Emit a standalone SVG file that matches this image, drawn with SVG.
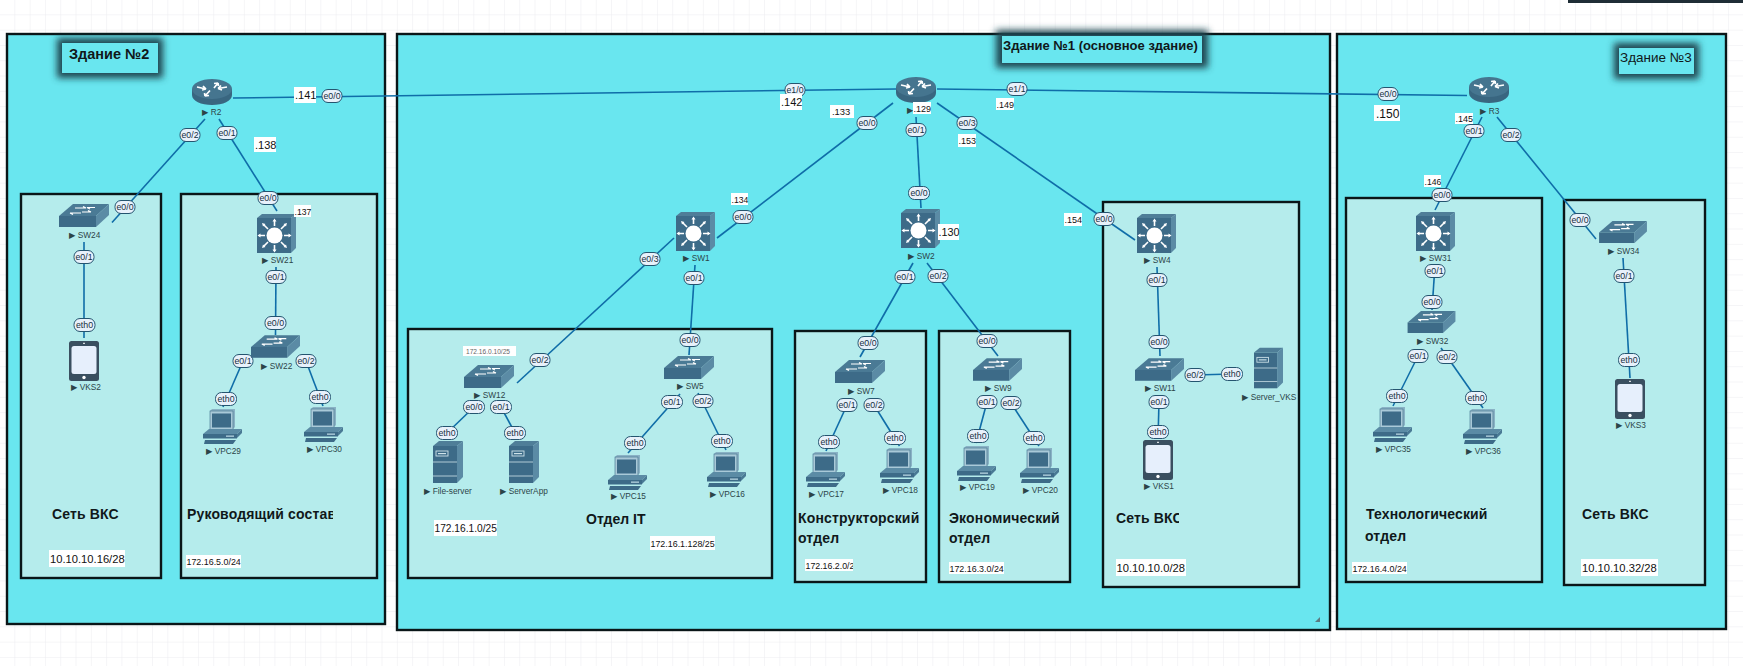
<svg xmlns="http://www.w3.org/2000/svg" width="1743" height="666" viewBox="0 0 1743 666">
<style>
text{font-family:"Liberation Sans","DejaVu Sans",sans-serif}
.bld{fill:#69e6ef;stroke:#0a1618;stroke-width:2.4}
.zone{fill:#b5ecec;stroke:#0a1618;stroke-width:2.4}
.ln{stroke:#0f6da8;stroke-width:1.6;fill:none;stroke-linecap:butt}
.pill{fill:#e8f1fb;stroke:#24546f;stroke-width:1}
.pt{font-size:8.8px;fill:#16303e;text-anchor:middle}
.nl{font-size:8.3px;fill:#2c4448}
.h{font-size:14px;font-weight:bold;fill:#10181a;letter-spacing:.15px}
.w{fill:#fff}
.ip{fill:#111}
.tag{fill:#69e6ef}
.shd{fill:#1d4450;filter:url(#sh)}
</style>
<defs>
<pattern id="grid" width="15.3" height="15.3" patternUnits="userSpaceOnUse"><path d="M15.3 0V15.3H0" fill="none" stroke="#ececf0" stroke-width="1"/></pattern>
<filter id="sh" x="-30%" y="-60%" width="160%" height="220%"><feGaussianBlur stdDeviation="3.500"/></filter>
<clipPath id="c1"><rect x="180" y="500" width="153" height="30"/></clipPath>
<clipPath id="c2"><rect x="1110" y="505" width="69" height="30"/></clipPath>
<clipPath id="c3"><rect x="805" y="559" width="48" height="12"/></clipPath>
<symbol id="router" viewBox="0 0 40 26" overflow="visible">
<path d="M0 10V16C0 22 9 26 20 26S40 22 40 16V10Z" fill="#396680"/>
<ellipse cx="20" cy="10" rx="20" ry="10" fill="#45758f"/>
<path d="M5 8L14 10M14 10l-3-3M14 10l-4 1M35 8L26 9.500M26 9.500l3-3M26 9.500l4 1.500M22 9L26 4M26 4l-4 .5M26 4l.5 3M18 11.500L13 17M13 17l4-.5M13 17l-.5-3" stroke="#fff" stroke-width="1.700" fill="none"/>
</symbol>
<symbol id="l3" viewBox="0 0 39 39" overflow="visible">
<path d="M0 4L5 0H39L34 4Z" fill="#4f7e98"/><path d="M34 4L39 0V34L34 39Z" fill="#5b8ba5"/>
<rect x="0" y="4" width="34" height="35" fill="#3d6b88"/>
<circle cx="17.500" cy="21.500" r="8" fill="#fff"/>
<path d="M17.500 12V6M17.500 31V37M8 21.500H2M27 21.500H33M11 15L6.500 10.500M24 15L28.500 10.500M11 28L6.500 32.500M24 28L28.500 32.500" stroke="#fff" stroke-width="1.600"/>
<path d="M17.500 4.500l-2 3h4ZM17.500 38.500l-2-3h4ZM.5 21.500l3-2v4ZM34.500 21.500l-3-2v4ZM5 9l1 3.500 2.500-2.500ZM30 9l-1 3.500-2.500-2.500ZM5 34l1-3.500 2.500 2.500ZM30 34l-1-3.500-2.500 2.500Z" fill="#fff"/>
</symbol>
<symbol id="l2" viewBox="0 0 50 23" overflow="visible">
<path d="M0 12L14 0H50L37 12Z" fill="#4a7a95"/><path d="M37 12L50 0V11L37 23Z" fill="#5b8ba5"/>
<rect x="0" y="12" width="37" height="11" fill="#3d6b88"/>
<path d="M16 4H27M27 4l-3-1.500M36 3.500H28M28 3.500l3 1.500M11 9H22M11 9l3 1.500M23 8H32M32 8l-3-1.500" stroke="#fff" stroke-width="1.200" fill="none"/>
</symbol>
<symbol id="pc" viewBox="0 0 39 35" overflow="visible">
<path d="M7 2L9 0H32V18L29 21H7Z" fill="#8ab2c5"/><rect x="7" y="2" width="23" height="19" fill="#a9c9d8" stroke="#3d6b88" stroke-width=".6"/>
<rect x="9" y="4.500" width="19" height="14" fill="#3d6b88"/>
<path d="M0 25L6 20H39L34 25Z" fill="#5b8ba5"/><path d="M34 25L39 20V24L34 29Z" fill="#4a7a95"/>
<rect x="0" y="25" width="34" height="4.500" fill="#3d6b88"/><rect x="23" y="26.500" width="8" height="1.300" fill="#b5d3df"/>
<path d="M2 31H33L30 35H1Z" fill="#3d6b88"/>
</symbol>
<symbol id="srv" viewBox="0 0 30 42" overflow="visible">
<path d="M0 5L6 0H30L24 5Z" fill="#4f7e98"/><path d="M24 5L30 0V36L24 42Z" fill="#5b8ba5"/>
<rect x="0" y="5" width="24" height="37" fill="#3d6b88"/>
<rect x="3" y="10" width="12" height="5" fill="none" stroke="#cfe3ea" stroke-width=".9"/><rect x="5" y="12" width="8" height="1.200" fill="#cfe3ea"/>
<path d="M0 21H24M0 35H24" stroke="#cfe3ea" stroke-width=".8"/>
</symbol>
<symbol id="tab" viewBox="0 0 30 40" overflow="visible">
<rect width="30" height="40" rx="2.500" fill="#3a4f60"/><rect x="2.500" y="5" width="25" height="28" rx="2.500" fill="#e6effc"/>
<circle cx="15" cy="36.500" r="1.700" fill="#fff"/><rect x="14" y="1.800" width="2" height="1" fill="#fff"/>
</symbol>
</defs>
<rect width="1743" height="666" fill="#fff"/>
<rect width="1743" height="666" fill="url(#grid)"/>
<rect x="1568" y="0" width="175" height="3" fill="#1f2d36"/>

<g id="building-2"><rect class="bld" x="7" y="34" width="378" height="590"/></g>
<g id="building-1"><rect class="bld" x="397" y="34" width="933" height="596"/><path d="M1315 622l5-5v5Z" fill="#5a7a80"/></g>
<g id="building-3"><rect class="bld" x="1337" y="34" width="389" height="595"/></g>

<g id="zone-vks2"><rect class="zone" x="21" y="194" width="140" height="384"/>
<text class="h" x="52" y="519">Сеть ВКС</text>
<rect class="w" x="49" y="550" width="76" height="17"/><text class="ip" x="50" y="562.500" font-size="11.200">10.10.10.16/28</text></g>
<g id="zone-management"><rect class="zone" x="181" y="194" width="196" height="384"/>
<text class="h" x="187" y="519" clip-path="url(#c1)">Руководящий состав</text>
<rect class="w" x="186" y="555" width="55" height="13"/><text class="ip" x="186.500" y="565" font-size="8.900">172.16.5.0/24</text></g>
<g id="zone-it"><rect class="zone" x="408" y="329" width="364" height="249"/>
<text x="586" y="524" font-size="14" font-weight="bold" fill="#10181a">Отдел IT</text>
<rect class="w" x="434" y="520" width="63" height="16"/><text class="ip" x="434.500" y="532" font-size="10.200">172.16.1.0/25</text>
<rect class="w" x="650" y="536" width="65" height="14"/><text class="ip" x="650.500" y="547" font-size="8.900">172.16.1.128/25</text></g>
<g id="zone-design"><rect class="zone" x="795" y="331" width="131" height="251"/>
<text class="h" x="798" y="523" letter-spacing="0">Конструкторский</text><text class="h" x="798" y="543">отдел</text>
<rect class="w" x="805" y="559" width="48" height="12"/><text class="ip" x="805.500" y="568.500" font-size="8.800" clip-path="url(#c3)">172.16.2.0/24</text></g>
<g id="zone-econ"><rect class="zone" x="939" y="331" width="131" height="251"/>
<text class="h" x="949" y="523">Экономический</text><text class="h" x="949" y="543">отдел</text>
<rect class="w" x="949" y="562" width="55" height="12"/><text class="ip" x="949.500" y="571.500" font-size="8.900">172.16.3.0/24</text></g>
<g id="zone-vks1"><rect class="zone" x="1103" y="202" width="196" height="385"/>
<text class="h" x="1116" y="523" clip-path="url(#c2)">Сеть ВКС</text>
<rect class="w" x="1116" y="559" width="70" height="17"/><text class="ip" x="1116.500" y="571.500" font-size="11.200">10.10.10.0/28</text></g>
<g id="zone-tech"><rect class="zone" x="1346" y="198" width="196" height="384"/>
<text class="h" x="1366" y="519">Технологический</text><text class="h" x="1365" y="541">отдел</text>
<rect class="w" x="1352" y="562" width="55" height="12"/><text class="ip" x="1352.500" y="571.500" font-size="8.900">172.16.4.0/24</text></g>
<g id="zone-vks3"><rect class="zone" x="1564" y="200" width="141" height="385"/>
<text class="h" x="1582" y="519">Сеть ВКС</text>
<rect class="w" x="1581" y="559" width="77" height="17"/><text class="ip" x="1582" y="571.500" font-size="11.200">10.10.10.32/28</text></g>

<g id="tag-2"><rect class="shd" x="57" y="38" width="106" height="40"/><rect class="tag" x="62" y="43" width="96" height="30"/><text x="69" y="59" font-size="14.500" font-weight="bold" fill="#10181a">Здание №2</text></g>
<g id="tag-1"><rect class="shd" x="996" y="30" width="212" height="38"/><rect class="tag" x="1002" y="36" width="200" height="27"/><text x="1003" y="50" font-size="13" font-weight="bold" fill="#10181a">Здание №1 (основное здание)</text></g>
<g id="tag-3"><rect class="shd" x="1614" y="43" width="85" height="36"/><rect class="tag" x="1619" y="48" width="75" height="26"/><text x="1620" y="62" font-size="13.500" fill="#10181a">Здание №3</text></g>

<g id="connectors" class="ln">
<path d="M233 98L896 89"/><path d="M937 89L1467 95.500"/>
<path d="M205 119L112 222.500"/><path d="M219 119L277 211"/><path d="M84 242V338"/><path d="M276 267L275.500 335"/>
<path d="M243 361L223 407"/><path d="M306 361L323 406"/>
<path d="M893 103L717 238"/><path d="M916 117L921 208"/><path d="M937 103L1135 240"/>
<path d="M674 238L517 383"/><path d="M695 265L689 355"/>
<path d="M474 407L447 433"/><path d="M501 407L515 433"/>
<path d="M680 394L628 453"/><path d="M698 393L726 450"/>
<path d="M913 263L860 357"/><path d="M927 263L998 356"/><path d="M1157 267L1160 356"/>
<path d="M847 405L826 451"/><path d="M874 405L899.500 446"/>
<path d="M987 402L976 443"/><path d="M1011 403L1039 446"/>
<path d="M1159 402L1158 439"/><path d="M1195 375L1232 374"/>
<path d="M1482 117L1435 210"/><path d="M1497 117L1596 239"/><path d="M1435 265L1432 310"/><path d="M1623 258L1630 378"/>
<path d="M1418 356L1393 406"/><path d="M1441 348L1483 408"/>
</g>

<g id="port-labels">
<rect class="pill" x="322" y="89.500" width="20" height="13" rx="6"/><text class="pt" x="332" y="99">e0/0</text>
<rect class="pill" x="180" y="128.500" width="20" height="13" rx="6"/><text class="pt" x="190" y="138">e0/2</text>
<rect class="pill" x="217" y="126.500" width="20" height="13" rx="6"/><text class="pt" x="227" y="136">e0/1</text>
<rect class="pill" x="115" y="200.500" width="20" height="13" rx="6"/><text class="pt" x="125" y="210">e0/0</text>
<rect class="pill" x="258" y="191.500" width="20" height="13" rx="6"/><text class="pt" x="268" y="201">e0/0</text>
<rect class="pill" x="74" y="250.500" width="20" height="13" rx="6"/><text class="pt" x="84" y="260">e0/1</text>
<rect class="pill" x="74" y="318.500" width="21" height="13" rx="6"/><text class="pt" x="84.500" y="328">eth0</text>
<rect class="pill" x="266" y="270.500" width="20" height="13" rx="6"/><text class="pt" x="276" y="280">e0/1</text>
<rect class="pill" x="265" y="316.500" width="21" height="13" rx="6"/><text class="pt" x="275.500" y="326">e0/0</text>
<rect class="pill" x="233" y="354.500" width="20" height="13" rx="6"/><text class="pt" x="243" y="364">e0/1</text>
<rect class="pill" x="296" y="354.500" width="20" height="13" rx="6"/><text class="pt" x="306" y="364">e0/2</text>
<rect class="pill" x="215.500" y="392.500" width="21" height="13" rx="6"/><text class="pt" x="226" y="402">eth0</text>
<rect class="pill" x="309.500" y="390.500" width="21" height="13" rx="6"/><text class="pt" x="320" y="400">eth0</text>
<rect class="pill" x="785" y="83.500" width="20" height="13" rx="6"/><text class="pt" x="795" y="93">e1/0</text>
<rect class="pill" x="733" y="210.500" width="20" height="13" rx="6"/><text class="pt" x="743" y="220">e0/0</text>
<rect class="pill" x="640" y="252.500" width="20" height="13" rx="6"/><text class="pt" x="650" y="262">e0/3</text>
<rect class="pill" x="684" y="271.500" width="20" height="13" rx="6"/><text class="pt" x="694" y="281">e0/1</text>
<rect class="pill" x="680" y="333.500" width="20" height="13" rx="6"/><text class="pt" x="690" y="343">e0/0</text>
<rect class="pill" x="530" y="353.500" width="20" height="13" rx="6"/><text class="pt" x="540" y="363">e0/2</text>
<rect class="pill" x="463.500" y="400.500" width="21" height="13" rx="6"/><text class="pt" x="474" y="410">e0/0</text>
<rect class="pill" x="490.500" y="400.500" width="21" height="13" rx="6"/><text class="pt" x="501" y="410">e0/1</text>
<rect class="pill" x="436.500" y="426.500" width="21" height="13" rx="6"/><text class="pt" x="447" y="436">eth0</text>
<rect class="pill" x="504.500" y="426.500" width="21" height="13" rx="6"/><text class="pt" x="515" y="436">eth0</text>
<rect class="pill" x="661.500" y="395.500" width="21" height="13" rx="6"/><text class="pt" x="672" y="405">e0/1</text>
<rect class="pill" x="693" y="394.500" width="20" height="13" rx="6"/><text class="pt" x="703" y="404">e0/2</text>
<rect class="pill" x="624.500" y="436.500" width="21" height="13" rx="6"/><text class="pt" x="635" y="446">eth0</text>
<rect class="pill" x="711.500" y="434.500" width="21" height="13" rx="6"/><text class="pt" x="722" y="444">eth0</text>
<rect class="pill" x="857" y="116.500" width="20" height="13" rx="6"/><text class="pt" x="867" y="126">e0/0</text>
<rect class="pill" x="906" y="123.500" width="20" height="13" rx="6"/><text class="pt" x="916" y="133">e0/1</text>
<rect class="pill" x="957" y="116.500" width="20" height="13" rx="6"/><text class="pt" x="967" y="126">e0/3</text>
<rect class="pill" x="1007" y="82.500" width="20" height="13" rx="6"/><text class="pt" x="1017" y="92">e1/1</text>
<rect class="pill" x="908.500" y="186.500" width="21" height="13" rx="6"/><text class="pt" x="919" y="196">e0/0</text>
<rect class="pill" x="895" y="270.500" width="20" height="13" rx="6"/><text class="pt" x="905" y="280">e0/1</text>
<rect class="pill" x="928" y="269.500" width="20" height="13" rx="6"/><text class="pt" x="938" y="279">e0/2</text>
<rect class="pill" x="1094" y="212.500" width="20" height="13" rx="6"/><text class="pt" x="1104" y="222">e0/0</text>
<rect class="pill" x="1147" y="273.500" width="20" height="13" rx="6"/><text class="pt" x="1157" y="283">e0/1</text>
<rect class="pill" x="858" y="336.500" width="20" height="13" rx="6"/><text class="pt" x="868" y="346">e0/0</text>
<rect class="pill" x="837" y="398.500" width="20" height="13" rx="6"/><text class="pt" x="847" y="408">e0/1</text>
<rect class="pill" x="864" y="398.500" width="20" height="13" rx="6"/><text class="pt" x="874" y="408">e0/2</text>
<rect class="pill" x="818.500" y="435.500" width="21" height="13" rx="6"/><text class="pt" x="829" y="445">eth0</text>
<rect class="pill" x="884.500" y="431.500" width="21" height="13" rx="6"/><text class="pt" x="895" y="441">eth0</text>
<rect class="pill" x="977" y="334.500" width="20" height="13" rx="6"/><text class="pt" x="987" y="344">e0/0</text>
<rect class="pill" x="977" y="395.500" width="20" height="13" rx="6"/><text class="pt" x="987" y="405">e0/1</text>
<rect class="pill" x="1001" y="396.500" width="20" height="13" rx="6"/><text class="pt" x="1011" y="406">e0/2</text>
<rect class="pill" x="967.500" y="429.500" width="21" height="13" rx="6"/><text class="pt" x="978" y="439">eth0</text>
<rect class="pill" x="1023.500" y="431.500" width="21" height="13" rx="6"/><text class="pt" x="1034" y="441">eth0</text>
<rect class="pill" x="1149" y="335.500" width="20" height="13" rx="6"/><text class="pt" x="1159" y="345">e0/0</text>
<rect class="pill" x="1185" y="368.500" width="20" height="13" rx="6"/><text class="pt" x="1195" y="378">e0/2</text>
<rect class="pill" x="1221.500" y="367.500" width="21" height="13" rx="6"/><text class="pt" x="1232" y="377">eth0</text>
<rect class="pill" x="1149" y="395.500" width="20" height="13" rx="6"/><text class="pt" x="1159" y="405">e0/1</text>
<rect class="pill" x="1147.500" y="425.500" width="21" height="13" rx="6"/><text class="pt" x="1158" y="435">eth0</text>
<rect class="pill" x="1378" y="87.500" width="20" height="13" rx="6"/><text class="pt" x="1388" y="97">e0/0</text>
<rect class="pill" x="1464" y="124.500" width="20" height="13" rx="6"/><text class="pt" x="1474" y="134">e0/1</text>
<rect class="pill" x="1501" y="128.500" width="20" height="13" rx="6"/><text class="pt" x="1511" y="138">e0/2</text>
<rect class="pill" x="1432" y="188.500" width="20" height="13" rx="6"/><text class="pt" x="1442" y="198">e0/0</text>
<rect class="pill" x="1570" y="213.500" width="20" height="13" rx="6"/><text class="pt" x="1580" y="223">e0/0</text>
<rect class="pill" x="1425" y="264.500" width="20" height="13" rx="6"/><text class="pt" x="1435" y="274">e0/1</text>
<rect class="pill" x="1422" y="295.500" width="20" height="13" rx="6"/><text class="pt" x="1432" y="305">e0/0</text>
<rect class="pill" x="1614" y="269.500" width="20" height="13" rx="6"/><text class="pt" x="1624" y="279">e0/1</text>
<rect class="pill" x="1408" y="349.500" width="20" height="13" rx="6"/><text class="pt" x="1418" y="359">e0/1</text>
<rect class="pill" x="1437" y="350.500" width="20" height="13" rx="6"/><text class="pt" x="1447" y="360">e0/2</text>
<rect class="pill" x="1386.500" y="389.500" width="21" height="13" rx="6"/><text class="pt" x="1397" y="399">eth0</text>
<rect class="pill" x="1465.500" y="391.500" width="21" height="13" rx="6"/><text class="pt" x="1476" y="401">eth0</text>
<rect class="pill" x="1618.500" y="353.500" width="21" height="13" rx="6"/><text class="pt" x="1629" y="363">eth0</text>
</g>

<g id="R2"><use href="#router" x="192" y="79" width="40" height="26"/><text class="nl" x="202" y="115">▶ R2</text></g>
<g id="R1"><use href="#router" x="896" y="77" width="40" height="26"/><text class="nl" x="907" y="113">▶</text></g>
<g id="R3"><use href="#router" x="1469" y="77" width="40" height="26"/><text class="nl" x="1480" y="113.500">▶ R3</text></g>
<g id="SW21"><use href="#l3" x="257" y="214" width="39" height="39"/><text class="nl" x="262" y="263">▶ SW21</text></g>
<g id="SW1"><use href="#l3" x="676" y="212" width="39" height="39"/><text class="nl" x="683" y="261">▶ SW1</text></g>
<g id="SW2"><use href="#l3" x="901" y="209" width="39" height="39"/><text class="nl" x="908" y="259">▶ SW2</text></g>
<g id="SW4"><use href="#l3" x="1137" y="214" width="39" height="39"/><text class="nl" x="1144" y="263">▶ SW4</text></g>
<g id="SW31"><use href="#l3" x="1416" y="212" width="39" height="39"/><text class="nl" x="1420" y="261">▶ SW31</text></g>
<g id="SW24"><use href="#l2" x="59" y="204" width="50" height="23"/><text class="nl" x="69" y="238">▶ SW24</text></g>
<g id="SW22"><use href="#l2" x="251" y="335" width="49" height="23"/><text class="nl" x="261" y="369">▶ SW22</text></g>
<g id="SW12"><use href="#l2" x="464" y="365" width="50" height="23"/><text class="nl" x="474" y="398">▶ SW12</text></g>
<g id="SW5"><use href="#l2" x="664" y="356" width="50" height="23"/><text class="nl" x="677" y="389">▶ SW5</text></g>
<g id="SW7"><use href="#l2" x="835" y="360" width="50" height="23"/><text class="nl" x="848" y="394">▶ SW7</text></g>
<g id="SW9"><use href="#l2" x="973" y="358" width="49" height="23"/><text class="nl" x="985" y="391">▶ SW9</text></g>
<g id="SW11"><use href="#l2" x="1135" y="358" width="49" height="23"/><text class="nl" x="1145" y="391">▶ SW11</text></g>
<g id="SW32"><use href="#l2" x="1407" y="311" width="49" height="22"/><text class="nl" x="1417" y="344">▶ SW32</text></g>
<g id="SW34"><use href="#l2" x="1598" y="221" width="50" height="22"/><text class="nl" x="1608" y="254">▶ SW34</text></g>
<g id="VKS2"><use href="#tab" x="69" y="341" width="30" height="40"/><text class="nl" x="71" y="390">▶ VKS2</text></g>
<g id="VKS1"><use href="#tab" x="1143" y="440" width="30" height="40"/><text class="nl" x="1144" y="489">▶ VKS1</text></g>
<g id="VKS3"><use href="#tab" x="1615" y="379" width="30" height="40"/><text class="nl" x="1616" y="428">▶ VKS3</text></g>
<g id="VPC29"><use href="#pc" x="203" y="409" width="39" height="35"/><text class="nl" x="206" y="454">▶ VPC29</text></g>
<g id="VPC30"><use href="#pc" x="304" y="407" width="39" height="35"/><text class="nl" x="307" y="452">▶ VPC30</text></g>
<g id="VPC15"><use href="#pc" x="608" y="455" width="39" height="35"/><text class="nl" x="611" y="499">▶ VPC15</text></g>
<g id="VPC16"><use href="#pc" x="707" y="452" width="39" height="35"/><text class="nl" x="710" y="497">▶ VPC16</text></g>
<g id="VPC17"><use href="#pc" x="806" y="452" width="39" height="35"/><text class="nl" x="809" y="497">▶ VPC17</text></g>
<g id="VPC18"><use href="#pc" x="880" y="448" width="39" height="35"/><text class="nl" x="883" y="493">▶ VPC18</text></g>
<g id="VPC19"><use href="#pc" x="957" y="446" width="39" height="35"/><text class="nl" x="960" y="490">▶ VPC19</text></g>
<g id="VPC20"><use href="#pc" x="1020" y="448" width="39" height="35"/><text class="nl" x="1023" y="493">▶ VPC20</text></g>
<g id="VPC35"><use href="#pc" x="1373" y="407" width="39" height="35"/><text class="nl" x="1376" y="452">▶ VPC35</text></g>
<g id="VPC36"><use href="#pc" x="1463" y="409" width="39" height="35"/><text class="nl" x="1466" y="454">▶ VPC36</text></g>
<g id="File-server"><use href="#srv" x="433" y="441" width="30" height="42"/><text class="nl" x="424" y="494">▶ File-server</text></g>
<g id="ServerApp"><use href="#srv" x="509" y="441" width="30" height="42"/><text class="nl" x="500" y="494">▶ ServerApp</text></g>
<g id="Server_VKS"><use href="#srv" x="1254" y="347" width="29" height="42"/><text class="nl" x="1242" y="400">▶ Server_VKS</text></g>

<g id="ip-labels">
<rect class="w" x="294" y="87" width="22" height="16"/><text class="ip" x="295" y="99" font-size="11">.141</text>
<rect class="w" x="254" y="137" width="22" height="15"/><text class="ip" x="255" y="149" font-size="11">.138</text>
<rect class="w" x="294" y="205" width="17" height="12" /><text class="ip" x="294.500" y="214.500" font-size="8.600">.137</text>
<rect class="w" x="780" y="94" width="22" height="16"/><text class="ip" x="781" y="106" font-size="11">.142</text>
<rect class="w" x="731" y="193" width="17" height="12"/><text class="ip" x="731.500" y="203" font-size="8.600">.134</text>
<rect class="w" x="830" y="105" width="24" height="13"/><text class="ip" x="832" y="115" font-size="9.400">.133</text>
<rect class="w" x="913" y="102" width="18" height="12"/><text class="ip" x="913.500" y="111.500" font-size="9">.129</text>
<rect class="w" x="996" y="98" width="18" height="12"/><text class="ip" x="996.500" y="107.500" font-size="9">.149</text>
<rect class="w" x="958" y="134" width="18" height="13"/><text class="ip" x="958.500" y="144" font-size="9">.153</text>
<rect class="w" x="938" y="224" width="21" height="16"/><text class="ip" x="938.500" y="236" font-size="10.800">.130</text>
<rect class="w" x="1064" y="213" width="18" height="13"/><text class="ip" x="1064.500" y="223" font-size="9">.154</text>
<rect class="w" x="1374" y="105" width="26" height="16"/><text class="ip" x="1376" y="117.500" font-size="12">.150</text>
<rect class="w" x="1455" y="113" width="18" height="11"/><text class="ip" x="1455.500" y="121.500" font-size="9">.145</text>
<rect class="w" x="1424" y="175" width="17" height="12"/><text class="ip" x="1424.500" y="184.500" font-size="8.600">.146</text>
<rect class="w" x="463" y="346" width="53" height="10"/><text x="466" y="353.500" font-size="6.600" fill="#666">172.16.0.10/25</text>
</g>
</svg>
